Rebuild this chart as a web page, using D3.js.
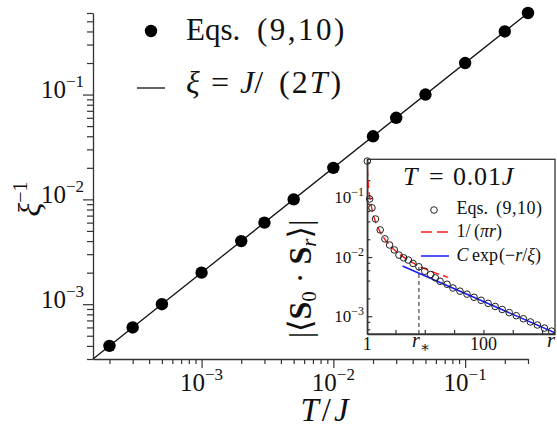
<!DOCTYPE html>
<html><head><meta charset="utf-8">
<script src="https://cdn.jsdelivr.net/npm/d3@7"></script>
<style>
body{margin:0;background:#fff}
svg{display:block}
</style>
</head><body>
<svg id="c" width="557" height="429" font-family="'Liberation Serif','DejaVu Serif',serif"></svg>
<script>
// ---------- main panel data ----------
const temperatures = [2e-4, 3e-4, 5e-4, 1e-3, 2e-3, 3e-3, 5e-3, 1e-2, 2e-2, 3e-2, 5e-2, 0.1, 0.2, 0.3];
const inverseXi   = [4e-4, 6e-4, 1e-3, 2e-3, 4e-3, 6e-3, 0.01, 0.02, 0.04, 0.06, 0.1, 0.2, 0.4, 0.6];
const mainXDomain = [1.5e-4, 0.3];
const mainYDomain = [3e-4, 0.6];
const mainXTickLabels = [["10","−3"],["10","−2"],["10","−1"]];
const mainXTickValues = [1e-3, 1e-2, 1e-1];
const mainYTickLabels = [["10","−3"],["10","−2"],["10","−1"]];
const mainYTickValues = [1e-3, 1e-2, 1e-1];
const fitLineT = [1.5e-4, 0.3];
const fitLineInvXi = [3e-4, 0.6];

// ---------- inset data (T = 0.01 J) ----------
const distances = [1, 3, 5, 8, 12, 16, 20, 24, 28, 32, 36, 40, 45, 50, 55, 59, 63, 69, 74, 80, 86, 92, 98, 104, 110, 116, 122, 128, 134, 140, 146, 152, 158];
const correlations = [0.42, 0.096, 0.068, 0.044, 0.0288, 0.0203, 0.016, 0.0132, 0.0108, 0.0097, 0.0089, 0.0078, 0.00685, 0.00576, 0.00507, 0.00445, 0.0039, 0.00347, 0.00300, 0.00265, 0.00236, 0.00209, 0.00186, 0.00165, 0.00146, 0.00130, 0.00115, 0.00102, 0.000905, 0.000800, 0.000710, 0.000630, 0.000560];
const insetXDomain = [1, 161];
const insetYDomain = [5e-4, 0.45];
const insetXTicks = [25, 50, 75, 100, 125, 150];
const insetYTickValues = [1e-3, 1e-2, 1e-1];
const insetYTickLabels = [["10","−3"],["10","−2"],["10","−1"]];
const powerLawRange = [1, 70];
const expFitRange = [31, 161];
const expFitC = 0.0131;
const xiAtT = 50;
const rStar = 45;
const rStarCorr = 0.0068;

const svg = d3.select("#c");
const AX = "#333";
const TXT = "#111";

// ================= MAIN PANEL =================
const mx = d3.scaleLog().domain(mainXDomain).range([93, 528]);
const my = d3.scaleLog().domain(mainYDomain).range([359, 13]);

function logTicks(domain, mults) {
  const out = [];
  const k0 = Math.floor(Math.log10(domain[0])), k1 = Math.ceil(Math.log10(domain[1]));
  for (let k = k0; k <= k1; k++) for (const m of mults) {
    const v = +(m * Math.pow(10, k)).toPrecision(4);
    if (v >= domain[0] * 0.999 && v <= domain[1] * 1.001) out.push(v);
  }
  return out;
}
const mainMinorX = logTicks(mainXDomain, [2,3,4,5,6,7,8,9]);
const mainMinorY = logTicks(mainYDomain, [2,3,4,5,6,7,8,9]);

function styleAxis(g) {
  g.selectAll("path").attr("stroke", AX).attr("stroke-width", 1.3);
  g.selectAll("line").attr("stroke", AX).attr("stroke-width", 1.2);
  g.selectAll("text").remove();
}
function txt(x, y, size) {
  return svg.append("text").attr("x", x).attr("y", y).attr("font-size", size).attr("fill", TXT).style("white-space", "pre");
}

// x axis
const gx = svg.append("g").attr("transform", "translate(0,359)");
gx.append("g").call(d3.axisBottom(mx).tickValues(mainMinorX).tickSize(5).tickSizeOuter(0).tickFormat("")).call(styleAxis);
gx.append("g").call(d3.axisBottom(mx).tickValues(mainXTickValues).tickSize(9).tickSizeOuter(0).tickFormat("")).call(styleAxis)
  .select(".domain").remove();
mainXTickValues.forEach((v, i) => {
  const t = txt(mx(v), 391, 25).attr("text-anchor", "middle");
  t.append("tspan").text(mainXTickLabels[i][0]);
  t.append("tspan").attr("dy", -11).attr("font-size", 17).text(mainXTickLabels[i][1]);
});
// y axis
const gy = svg.append("g").attr("transform", "translate(93,0)");
gy.append("g").call(d3.axisLeft(my).tickValues(mainMinorY).tickSize(6).tickSizeOuter(0).tickFormat("")).call(styleAxis);
gy.append("g").call(d3.axisLeft(my).tickValues(mainYTickValues).tickSize(10).tickSizeOuter(0).tickFormat("")).call(styleAxis)
  .select(".domain").remove();
mainYTickValues.forEach((v, i) => {
  const t = txt(84, my(v) + 3.5, 25).attr("text-anchor", "end");
  t.append("tspan").text(mainYTickLabels[i][0]);
  t.append("tspan").attr("dy", -11).attr("font-size", 17).text(mainYTickLabels[i][1]);
});

// axis titles
const xt = txt(326, 421, 33).attr("text-anchor", "middle").attr("font-style", "italic").attr("letter-spacing", 3);
xt.append("tspan").text("T");
xt.append("tspan").attr("font-style", "normal").text("/");
xt.append("tspan").text("J");
const yt = svg.append("text").attr("transform", "translate(40,199) rotate(-90)").attr("text-anchor", "middle").attr("font-size", 32).attr("fill", TXT);
yt.append("tspan").attr("font-style", "italic").text("ξ");
yt.append("tspan").attr("dy", -13).attr("font-size", 20).text("−1");

// fit line
svg.append("path")
  .datum(fitLineT.map((t, i) => [t, fitLineInvXi[i]]))
  .attr("d", d3.line().x(d => mx(d[0])).y(d => my(d[1])))
  .attr("stroke", "#111").attr("stroke-width", 1.3).attr("fill", "none");
// points
svg.append("g").selectAll("circle").data(temperatures).join("circle")
  .attr("cx", d => mx(d)).attr("cy", (d, i) => my(inverseXi[i])).attr("r", 6.2).attr("fill", "#000");

// main legend
svg.append("circle").attr("cx", 151).attr("cy", 31).attr("r", 6.2).attr("fill", "#000");
const lg1 = txt(186, 40, 31);
lg1.append("tspan").text("Eqs.");
lg1.append("tspan").attr("x", 257).attr("letter-spacing", 2.5).text("(9,10)");
svg.append("line").attr("x1", 137).attr("x2", 165).attr("y1", 88).attr("y2", 88).attr("stroke", "#111").attr("stroke-width", 1.3);
const lg2 = txt(186, 93, 32);
lg2.append("tspan").attr("font-style", "italic").text("ξ");
lg2.append("tspan").attr("x", 211).text("=");
lg2.append("tspan").attr("x", 240).attr("font-style", "italic").text("J");
lg2.append("tspan").text("/");
lg2.append("tspan").attr("x", 279).attr("letter-spacing", 2).text("(2");
lg2.append("tspan").attr("font-style", "italic").attr("letter-spacing", 3).text("T");
lg2.append("tspan").text(")");

// ================= INSET =================
const ix = d3.scaleLinear().domain(insetXDomain).range([367.3, 555]);
const iy = d3.scaleLog().domain(insetYDomain).range([334, 159.3]);
svg.append("rect").attr("x", 367.3).attr("y", 159.3).attr("width", 555 - 367.3).attr("height", 334 - 159.3).attr("fill", "#fff");
svg.append("clipPath").attr("id", "ic").append("rect").attr("x", 367.3).attr("y", 159.3).attr("width", 555 - 367.3).attr("height", 334 - 159.3);

const insetMinorY = logTicks(insetYDomain, [2,4,6,8]);
const giy = svg.append("g").attr("transform", "translate(367.3,0)");
giy.append("g").call(d3.axisLeft(iy).tickValues(insetMinorY).tickSize(-3).tickSizeOuter(0).tickFormat("")).call(styleAxis);
giy.append("g").call(d3.axisLeft(iy).tickValues(insetYTickValues).tickSize(-5).tickSizeOuter(0).tickFormat("")).call(styleAxis)
  .select(".domain").remove();
const gix = svg.append("g").attr("transform", "translate(0,334)");
gix.append("g").call(d3.axisBottom(ix).tickValues(insetXTicks).tickSize(-4).tickSizeOuter(0).tickFormat("")).call(styleAxis);

insetYTickValues.forEach((v, i) => {
  const t = txt(364, iy(v) + 5.5, 17).attr("text-anchor", "end");
  t.append("tspan").text(insetYTickLabels[i][0]);
  t.append("tspan").attr("dy", -7).attr("font-size", 12).text(insetYTickLabels[i][1]);
});
txt(ix(1), 350, 18).attr("text-anchor", "middle").text("1");
txt(ix(100), 350, 18).attr("text-anchor", "middle").text("100");
const rs = txt(ix(rStar) + 2, 347, 20).attr("text-anchor", "middle");
rs.append("tspan").attr("font-style", "italic").text("r");
rs.append("tspan").attr("dy", 5).attr("font-size", 15).text("∗");
txt(551, 347, 21).attr("text-anchor", "middle").attr("font-style", "italic").text("r");

// inset y title
const iyt = svg.append("text").attr("transform", "translate(311,279) rotate(-90)").attr("text-anchor", "middle").attr("font-size", 32).attr("fill", TXT);
iyt.append("tspan").text("|⟨");
iyt.append("tspan").attr("font-weight", "bold").text("S");
iyt.append("tspan").attr("dy", 5).attr("font-size", 21).text("0");
iyt.append("tspan").attr("dy", -5).text(" · ");
iyt.append("tspan").attr("font-weight", "bold").text("S");
iyt.append("tspan").attr("dy", 5).attr("font-size", 21).attr("font-style", "italic").text("r");
iyt.append("tspan").attr("dy", -5).text("⟩|");

// inset curves
const ic = svg.append("g").attr("clip-path", "url(#ic)");
const plSamples = d3.range(0, 101).map(k => powerLawRange[0] + (powerLawRange[1] - powerLawRange[0]) * Math.pow(k / 100, 2));
ic.append("path").datum(plSamples)
  .attr("d", d3.line().x(r => ix(r)).y(r => iy(1 / (Math.PI * r))))
  .attr("fill", "none").attr("stroke", "#ff1a1a").attr("stroke-width", 1.4).attr("stroke-dasharray", "8,4");
ic.append("path").datum(expFitRange)
  .attr("d", d3.line().x(r => ix(r)).y(r => iy(expFitC * Math.exp(-r / xiAtT))))
  .attr("fill", "none").attr("stroke", "#1a1aff").attr("stroke-width", 1.5);
ic.append("line").attr("x1", ix(rStar)).attr("x2", ix(rStar)).attr("y1", iy(rStarCorr)).attr("y2", 334)
  .attr("stroke", "#222").attr("stroke-width", 1).attr("stroke-dasharray", "4,3");
svg.append("g").selectAll("circle").data(distances).join("circle")
  .attr("cx", d => ix(d)).attr("cy", (d, i) => iy(correlations[i])).attr("r", 3.3)
  .attr("fill", "none").attr("stroke", "#222").attr("stroke-width", 1);

// inset frame
svg.append("rect").attr("x", 367.3).attr("y", 159.3).attr("width", 555 - 367.3).attr("height", 334 - 159.3)
  .attr("fill", "none").attr("stroke", AX).attr("stroke-width", 1.3);

// inset title
const it = txt(403, 185, 26);
it.append("tspan").attr("font-style", "italic").text("T");
it.append("tspan").attr("x", 429).text("=");
it.append("tspan").attr("x", 453).attr("letter-spacing", 0.8).text("0.01");
it.append("tspan").attr("font-style", "italic").text("J");

// inset legend
svg.append("circle").attr("cx", 434).attr("cy", 210).attr("r", 3.3).attr("fill", "none").attr("stroke", "#222").attr("stroke-width", 1);
const e2 = txt(456.5, 214, 18);
e2.append("tspan").text("Eqs.");
e2.append("tspan").attr("x", 496).attr("letter-spacing", 0.5).text("(9,10)");
svg.append("line").attr("x1", 421).attr("x2", 449).attr("y1", 232).attr("y2", 232).attr("stroke", "#ff1a1a").attr("stroke-width", 1.4).attr("stroke-dasharray", "11,5");
const l2 = txt(456.5, 237, 18);
l2.append("tspan").text("1/");
l2.append("tspan").attr("x", 474).text("(");
l2.append("tspan").attr("font-style", "italic").text("πr");
l2.append("tspan").text(")");
svg.append("line").attr("x1", 421).attr("x2", 449).attr("y1", 256).attr("y2", 256).attr("stroke", "#1a1aff").attr("stroke-width", 1.5);
const l3 = txt(456.5, 261, 18);
l3.append("tspan").attr("font-style", "italic").text("C");
l3.append("tspan").attr("x", 472).text("exp");
l3.append("tspan").attr("x", 499).text("(−");
l3.append("tspan").attr("font-style", "italic").text("r");
l3.append("tspan").text("/");
l3.append("tspan").attr("font-style", "italic").text("ξ");
l3.append("tspan").text(")");
</script>
</body></html>
